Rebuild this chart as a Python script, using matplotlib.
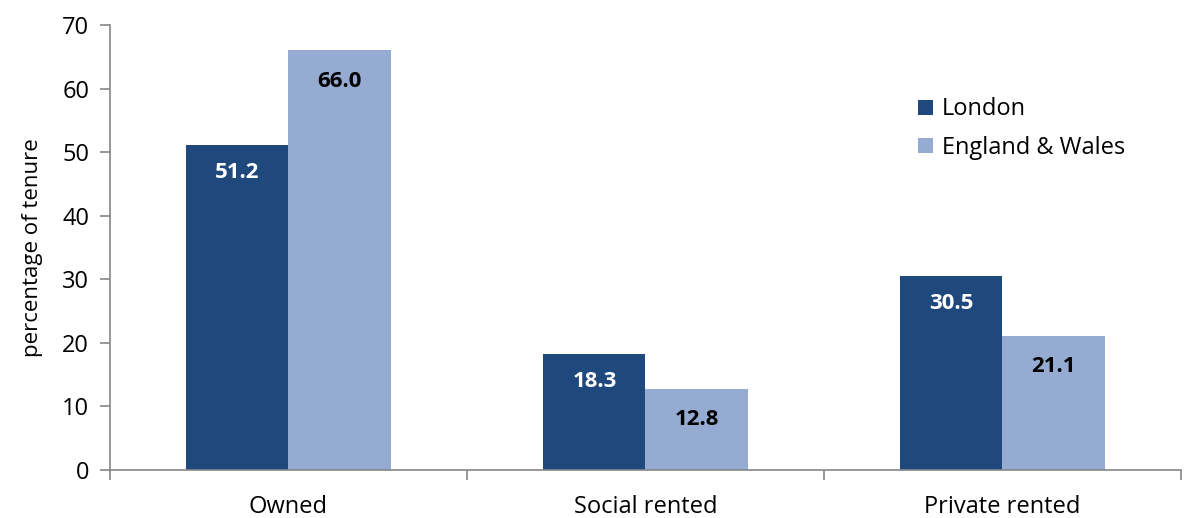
import numpy as np
import matplotlib.pyplot as plt

categories = ["Owned", "Social rented", "Private rented"]
london = [51.2, 18.3, 30.5]
eng_wales = [66.0, 12.8, 21.1]
yticks = [0, 10, 20, 30, 40, 50, 60, 70]

DARK = "#1f497d"
LIGHT = "#95abd2"
AXIS = "#868686"

plt.rcParams["font.family"] = ["Open Sans", "DejaVu Sans"]

fig = plt.figure(figsize=(11.85, 5.18), dpi=100)
ax = fig.add_axes([0.0928, 0.0927, 0.9038, 0.859])

x = np.arange(len(categories))
w = 0.286
b1 = ax.bar(x - w / 2, london, w, color=DARK, label="London")
b2 = ax.bar(x + w / 2, eng_wales, w, color=LIGHT, label="England & Wales")

for rect, v in zip(b1, london):
    ax.annotate("%.1f" % v, (rect.get_x() + rect.get_width() / 2, v),
                xytext=(0, -20), textcoords="offset points", ha="center", va="center",
                color="white", fontsize=16, fontweight="bold")
for rect, v in zip(b2, eng_wales):
    ax.annotate("%.1f" % v, (rect.get_x() + rect.get_width() / 2, v),
                xytext=(0, -22), textcoords="offset points", ha="center", va="center",
                color="black", fontsize=16, fontweight="bold")

ax.set_xlim(-0.5, 2.5)
ax.set_ylim(0, 70)
ax.set_yticks(yticks)
ax.set_yticklabels([str(t) for t in yticks], fontsize=17)
ax.set_xticks([-0.5, 0.5, 1.5, 2.5])
ax.set_xticklabels([])
ax.set_xticks(x, minor=True)
ax.set_xticklabels(categories, minor=True, fontsize=17)
ax.tick_params(axis="x", which="minor", length=0, pad=18)
ax.tick_params(axis="x", which="major", length=7, color=AXIS, width=1.2)
ax.tick_params(axis="y", length=7, color=AXIS, width=1.2, pad=8)
ax.set_ylabel("percentage of tenure", fontsize=16, labelpad=14)

for s in ["top", "right"]:
    ax.spines[s].set_visible(False)
for s in ["left", "bottom"]:
    ax.spines[s].set_color(AXIS)
    ax.spines[s].set_linewidth(1.2)

ax.legend(loc="upper left", bbox_to_anchor=(0.735, 0.885), frameon=False, fontsize=17,
          handlelength=0.6, handleheight=0.6, handletextpad=0.4, labelspacing=0.6)

fig.savefig("out.png", dpi=100)
